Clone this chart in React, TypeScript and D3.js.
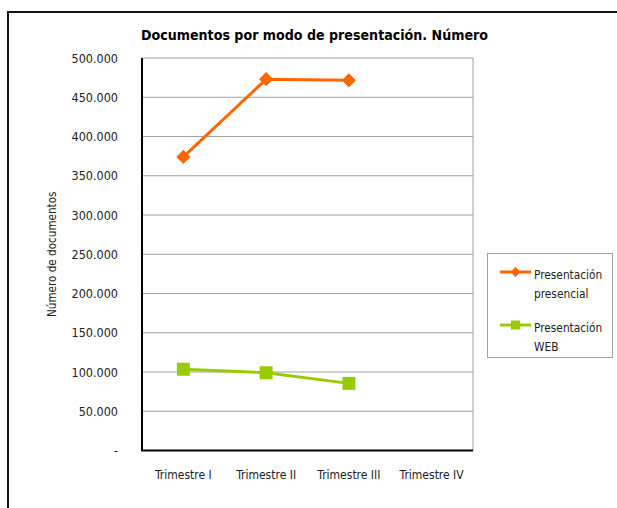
import React from "react";
import * as d3 from "d3";

const categories = ["Trimestre I", "Trimestre II", "Trimestre III", "Trimestre IV"];
const presencial = [374000, 473000, 471500, null];
const web = [103500, 99000, 85500, null];
const yTicks = [0, 50000, 100000, 150000, 200000, 250000, 300000, 350000, 400000, 450000, 500000];

const W = 617, H = 508;
const plot = { left: 142, right: 473, top: 58, bottom: 450.5 };
const FONT = "'DejaVu Sans Condensed', sans-serif";
const ORANGE = "#FF6600";
const GREEN = "#99CC00";

function fmt(v: number) {
  if (v === 0) return "-";
  return d3.format(",")(v).replace(/,/g, ".");
}

export default function App() {
  const x = d3.scaleBand<string>().domain(categories).range([plot.left, plot.right]);
  const y = d3.scaleLinear().domain([0, 500000]).range([plot.bottom, plot.top]);
  const cx = (c: string) => (x(c) as number) + x.bandwidth() / 2;
  const line = d3
    .line<[string, number | null]>()
    .defined((d) => d[1] !== null)
    .x((d) => cx(d[0]))
    .y((d) => y(d[1] as number));
  const pres = categories.map((c, i) => [c, presencial[i]] as [string, number | null]);
  const wb = categories.map((c, i) => [c, web[i]] as [string, number | null]);

  return (
    <svg width={W} height={H} style={{ position: "fixed", left: 0, top: 0 }} fontFamily={FONT}>
      <rect x={0} y={0} width={W} height={H} fill="#fff" />
      <path d={`M8,${H} V12 H${W}`} fill="none" stroke="#111" strokeWidth={2} />
      <text x={314.5} y={40} textAnchor="middle" fontSize={14.1} fontWeight="bold" fill="#000">
        Documentos por modo de presentación. Número
      </text>
      {yTicks.map((t) => (
        <g key={t}>
          {t > 0 && t < 500000 && (
            <line x1={plot.left} x2={plot.right} y1={y(t)} y2={y(t)} stroke="#a0a0a0" strokeWidth={1} />
          )}
          <text x={118} y={y(t) + 4.5} textAnchor="end" fontSize={12.5} fill="#222">
            {fmt(t)}
          </text>
        </g>
      ))}
      <rect
        x={plot.left}
        y={plot.top}
        width={plot.right - plot.left}
        height={plot.bottom - plot.top}
        fill="none"
        stroke="#a0a0a0"
        strokeWidth={1}
      />
      <line x1={plot.left} x2={plot.left} y1={plot.top} y2={plot.bottom} stroke="#000" strokeWidth={2} />
      <line x1={plot.left - 1} x2={plot.right} y1={plot.bottom} y2={plot.bottom} stroke="#000" strokeWidth={2} />
      {categories.map((c) => (
        <text key={c} x={cx(c)} y={479} textAnchor="middle" fontSize={12} fill="#222">
          {c}
        </text>
      ))}
      <text
        transform={`translate(56,${(plot.top + plot.bottom) / 2}) rotate(-90)`}
        textAnchor="middle"
        fontSize={11.6}
        fill="#222"
      >
        Número de documentos
      </text>
      <path d={line(pres) || ""} fill="none" stroke={ORANGE} strokeWidth={3} />
      {pres.filter((d) => d[1] !== null).map((d) => (
        <rect
          key={d[0]}
          x={-5}
          y={-5}
          width={10}
          height={10}
          fill={ORANGE}
          transform={`translate(${cx(d[0])},${y(d[1] as number)}) rotate(45)`}
        />
      ))}
      <path d={line(wb) || ""} fill="none" stroke={GREEN} strokeWidth={3} />
      {wb.filter((d) => d[1] !== null).map((d) => (
        <rect key={d[0]} x={cx(d[0]) - 6.5} y={y(d[1] as number) - 6.5} width={13} height={13} fill={GREEN} />
      ))}
      <rect x={487.5} y={253.5} width={125} height={104} fill="#fff" stroke="#a0a0a0" strokeWidth={1} />
      <line x1={500} x2={531} y1={272} y2={272} stroke={ORANGE} strokeWidth={3} />
      <rect x={-3.5} y={-3.5} width={7} height={7} fill={ORANGE} transform="translate(515.5,272) rotate(45)" />
      <text x={534} y={279} fontSize={11.8} fill="#222">Presentación</text>
      <text x={534} y={298} fontSize={11.8} fill="#222">presencial</text>
      <line x1={500} x2={531} y1={325} y2={325} stroke={GREEN} strokeWidth={3} />
      <rect x={511} y={320.5} width={9} height={9} fill={GREEN} />
      <text x={534} y={332} fontSize={11.8} fill="#222">Presentación</text>
      <text x={534} y={351} fontSize={11.8} fill="#222">WEB</text>
    </svg>
  );
}
